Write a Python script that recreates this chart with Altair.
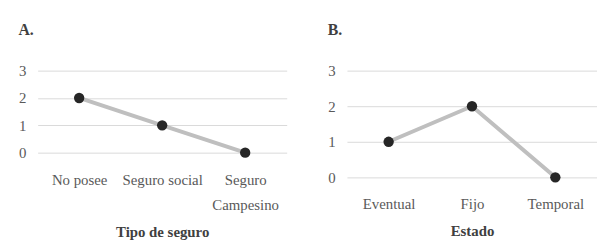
import altair as alt
import pandas as pd

cats_a = ["No posee", "Seguro social", "Seguro Campesino"]
vals_a = [2, 1, 0]
cats_b = ["Eventual", "Fijo", "Temporal"]
vals_b = [1, 2, 0]

FONT = "Liberation Serif"

def panel(cats, vals, title, xtitle, w, h, label_expr="datum.label"):
    df = pd.DataFrame({"cat": cats, "val": vals})
    xaxis = alt.Axis(
        title=xtitle, labelAngle=0, domain=False, ticks=False, grid=False,
        labelPadding=20, labelLineHeight=26, labelFontSize=15, labelColor="#595959",
        titleFontSize=15, titleColor="#404040", titleFontWeight="bold", titlePadding=12,
        labelFont=FONT, titleFont=FONT, labelExpr=label_expr,
    )
    x = alt.X("cat:N", sort=cats, scale=alt.Scale(type="point", padding=0.5), axis=xaxis)
    y = alt.Y("val:Q", scale=alt.Scale(domain=[0, 3], nice=False, zero=True),
              axis=alt.Axis(title=None, values=[0, 1, 2, 3], domain=False, ticks=False,
                            gridColor="#d9d9d9", gridWidth=1, labelPadding=12,
                            labelFontSize=15, labelColor="#595959", labelFont=FONT))
    base = alt.Chart(df).encode(x=x, y=y)
    line = base.mark_line(color="#bfbfbf", strokeWidth=4)
    pts = base.mark_circle(color="#262626", size=110, opacity=1)
    return (line + pts).properties(
        width=w, height=h,
        title=alt.TitleParams(title, anchor="start", fontSize=16, font=FONT,
                              color="#404040", fontWeight="bold", offset=26),
    )

a = panel(cats_a, vals_a, "A.", "Tipo de seguro", 252, 83,
          label_expr="datum.value == 'Seguro Campesino' ? ['Seguro', 'Campesino'] : datum.label")
b = panel(cats_b, vals_b, "B.", "Estado", 253, 108)

chart = alt.hconcat(a, b, spacing=41).properties(
    padding={"left": 10, "top": 13, "right": 0, "bottom": 0}
).configure_view(stroke=None)

chart.save("out.html", embed_options={"renderer": "svg", "actions": False})
